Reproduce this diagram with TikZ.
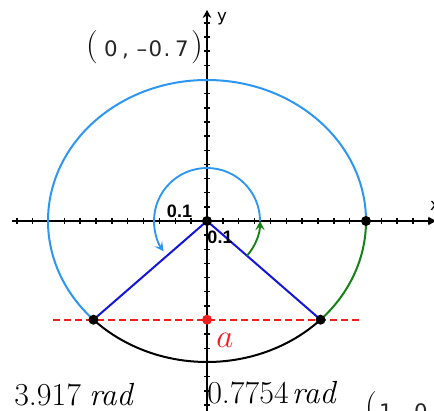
\documentclass[tikz,border=0pt]{standalone}
\usepackage{fontspec}
\usetikzlibrary{arrows.meta}
\newfontfamily\coordfont{DejaVu Sans}
\newfontfamily\tickfont{Liberation Sans}
\definecolor{arcblue}{RGB}{45,150,240}
\definecolor{segblue}{RGB}{20,20,225}
\definecolor{arcgreen}{RGB}{20,130,20}
\definecolor{dashred}{RGB}{240,30,30}
\begin{document}
\begin{tikzpicture}[x=0.75pt,y=0.75pt,
  axisline/.style={line width=1.5pt,-{Stealth[length=6pt,width=6.5pt]}},
  tickmark/.style={line width=1.1pt},
  dot/.style={circle,fill=black,inner sep=0pt,minimum size=7.5pt},
  reddot/.style={circle,fill=dashred,inner sep=0pt,minimum size=7.5pt},
  bigarc/.style={line width=1.5pt},
  segment/.style={segblue,line width=1.5pt},
  anglearrow/.style={line width=1.4pt,-{Stealth[length=7pt,width=7pt,inset=3pt]}},
  coordtxt/.style={inner sep=0pt,font=\coordfont\fontsize{16}{16}\selectfont,text=black!85},
  parentxt/.style={inner sep=0pt,font=\fontsize{25}{25}\selectfont},
  ticklabel/.style={inner sep=0pt,font=\tickfont\bfseries\fontsize{13.5}{13.5}\selectfont},
  axislabel/.style={inner sep=0pt,font=\coordfont\fontsize{12.5}{12.5}\selectfont},
  radtxt/.style={inner sep=0pt,anchor=base west,font=\fontsize{24}{24}\selectfont}]
\clip (0,0) rectangle (434,410);
% axes
\coordinate (xs) at (12,189);
\coordinate (xe) at (436,189);
\coordinate (ys) at (207,-2);
\coordinate (ye) at (207,400);
\draw[axisline] (xs) -- (xe);
\draw[axisline] (ys) -- (ye);
\foreach \i in {-12,...,14} \draw[tickmark] ({207+15.85*\i},186) -- ++(0,6);
\foreach \j in {-13,...,14} \draw[tickmark] (204,{189+14.15*\j}) -- ++(6,0);
\node[axislabel] (ylab) at (222,391) {y};
\node[axislabel] (xlab) at (435,204) {x};
% points
\coordinate (O) at (207,189);
\coordinate (R) at (366,189);
\coordinate (P) at (320.55,90.3);
\coordinate (Q) at (93.45,90.3);
\coordinate (A) at (207,90.3);
\coordinate (dl) at (53,90.3);
\coordinate (dr) at (360,90.3);
% red dashed line
\draw[dashred,line width=1.3pt,dash pattern=on 5.3pt off 3pt] (dl) -- (dr);
% big ellipse arcs
\draw[bigarc,arcblue] (R) arc[start angle=0,end angle=224.427,x radius=159,y radius=141];
\draw[bigarc,arcgreen] (P) arc[start angle=-44.427,end angle=0,x radius=159,y radius=141];
\draw[bigarc,black] (Q) arc[start angle=224.427,end angle=315.573,x radius=159,y radius=141];
% segments
\draw[segment] (O) -- (Q);
\draw[segment] (O) -- (P);
% angle arrows
\coordinate (sb) at (260,189);
\coordinate (sg) at ({207+53*cos(-41)},{189+53*sin(-41)});
\draw[anglearrow,arcblue] (sb) arc[start angle=0,end angle=215,radius=53];
\draw[anglearrow,arcgreen] (sg) arc[start angle=-41,end angle=0,radius=53];
% dots
\node[dot] (nO) at (O) {};
\node[dot] (nR) at (R) {};
\node[dot] (nP) at (P) {};
\node[dot] (nQ) at (Q) {};
\node[reddot] (nA) at (A) {};
% labels
\node[ticklabel] (t1) at (179.5,199) {0.1};
\node[ticklabel] (t2) at (220,172.5) {0.1};
\node[radtxt,text=dashred] (alab) at (216,63) {$a$};
\node[radtxt] (rad1) at (14,5) {3.917\hspace{0.25em}\textit{rad}};
\node[radtxt] (rad2) at (207,7) {0.7754\hspace{0.1em}\textit{rad}};
% coordinate label (0,-0.7)
\node[parentxt] (lpA) at (92,363) {(};
\node[parentxt] (rpA) at (197,363) {)};
\foreach \cx/\ch [count=\k] in {111/0,125.5/{,},142/–,155.5/0,167/.,182/7}
  \node[coordtxt,anchor=base] (ca\k) at (\cx,353) {\ch};
% cut-off label at the bottom right
\node[parentxt] (lpB) at (371,2) {(};
\foreach \cx/\ch [count=\k] in {386/1,402/{,},421/0}
  \node[coordtxt,anchor=base] (cb\k) at (\cx,-9) {\ch};
\end{tikzpicture}
\end{document}
